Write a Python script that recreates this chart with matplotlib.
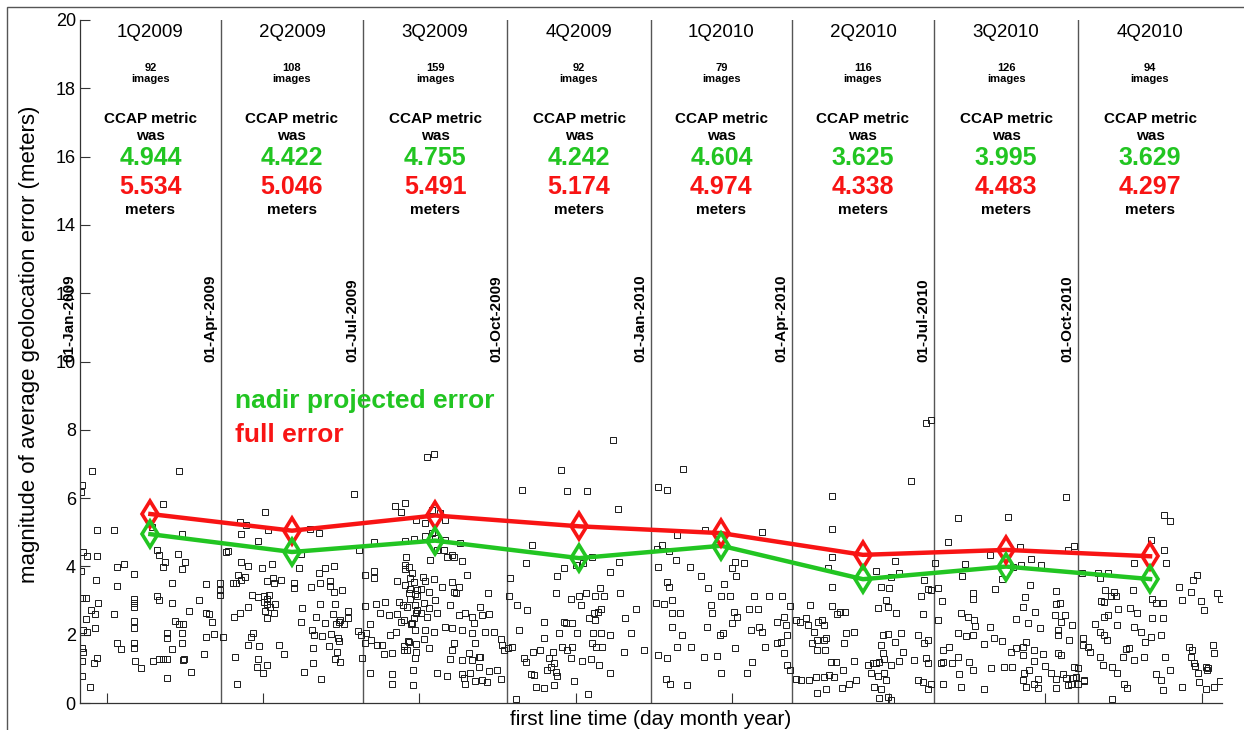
import numpy as np
import matplotlib
matplotlib.use('Agg')
import matplotlib.pyplot as plt
from matplotlib.patches import Rectangle

plt.rcParams['font.family'] = ['Liberation Sans', 'DejaVu Sans']

# quarter boundaries (first line time), days counted from 01-Jan-2009
edge_dates = np.array(['2009-01-01', '2009-04-01', '2009-07-01', '2009-10-01',
                       '2010-01-01', '2010-04-01', '2010-07-01', '2010-10-01',
                       '2011-01-01'], dtype='datetime64[D]')
edge_labels = ['01-Jan-2009', '01-Apr-2009', '01-Jul-2009', '01-Oct-2009',
               '01-Jan-2010', '01-Apr-2010', '01-Jul-2010', '01-Oct-2010']
quarters = ['1Q2009', '2Q2009', '3Q2009', '4Q2009',
            '1Q2010', '2Q2010', '3Q2010', '4Q2010']
n_images = [92, 108, 159, 92, 79, 116, 126, 94]
nadir_err = [4.944, 4.422, 4.755, 4.242, 4.604, 3.625, 3.995, 3.629]
full_err = [5.534, 5.046, 5.491, 5.174, 4.974, 4.338, 4.483, 4.297]

# per-image average geolocation error: (day, meters)
q1_2009 = [(7.5, 6.80), (1.1, 6.38), (0.5, 6.19), (63.4, 6.80), (52.9, 5.83), (10.7, 5.07),
           (21.9, 5.07), (45.9, 5.16), (65.1, 4.94), (1.7, 4.43), (4.7, 4.31), (10.7, 4.31),
           (49.5, 4.48), (50.7, 4.33), (62.5, 4.36), (67.2, 4.12), (54.4, 4.14), (53.3, 3.97),
           (23.5, 3.99), (28.2, 4.07), (0.6, 3.87), (65.1, 3.91), (34.7, 3.77), (10.2, 3.60),
           (23.5, 3.43), (58.7, 3.52), (80.6, 3.48), (89.6, 3.52), (89.6, 3.30), (89.6, 3.15),
           (1.1, 3.07), (3.8, 3.07), (34.7, 3.04), (34.7, 2.93), (34.7, 2.82), (49.1, 3.14),
           (50.7, 3.02), (58.7, 2.94), (76.3, 3.02), (11.7, 2.94), (6.8, 2.72), (9.6, 2.61),
           (21.9, 2.62), (69.9, 2.69), (80.6, 2.65), (82.7, 2.61), (84.5, 2.36), (3.8, 2.46),
           (34.7, 2.41), (60.8, 2.41), (63.5, 2.31), (65.7, 2.31), (9.6, 2.19), (4.7, 2.09),
           (2.1, 2.14), (34.7, 2.20), (55.5, 2.04), (55.5, 1.91), (65.1, 2.06), (85.7, 2.02),
           (80.4, 1.92), (23.5, 1.77), (26.2, 1.57), (34.7, 1.77), (34.7, 1.60), (65.1, 1.75),
           (1.1, 1.60), (1.7, 1.50), (58.7, 1.57), (79.3, 1.43), (10.7, 1.31), (9.2, 1.18),
           (1.1, 1.24), (35.2, 1.23), (38.8, 1.02), (46.5, 1.24), (50.7, 1.28), (53.3, 1.28),
           (55.5, 1.28), (65.7, 1.26), (66.5, 1.30), (70.8, 0.92), (1.1, 0.80), (55.5, 0.72),
           (6.4, 0.46)]
q2_2009 = [(175.3, 6.11), (118.4, 5.60), (102.8, 4.94), (119.9, 5.07), (152.5, 4.97),
           (147.2, 5.10), (102.4, 5.30), (106.2, 5.20), (113.7, 4.74), (93.4, 4.41), (94.9, 4.46),
           (178.1, 4.48), (141.2, 4.35), (102.8, 4.14), (107.7, 4.02), (116.3, 3.94), (122.7, 4.07),
           (139.7, 3.94), (152.5, 3.82), (156.8, 3.94), (162.5, 4.01), (101.3, 3.75), (105.6, 3.70),
           (102.8, 3.60), (98.1, 3.52), (99.8, 3.52), (119.5, 3.57), (123.3, 3.65), (124.1, 3.52),
           (128.6, 3.60), (136.9, 3.52), (136.9, 3.38), (147.6, 3.41), (153.6, 3.52), (160.0, 3.58),
           (160.0, 3.43), (162.5, 3.26), (167.5, 3.31), (109.9, 3.16), (114.1, 3.09), (117.3, 3.13),
           (119.5, 3.06), (121.1, 3.16), (117.3, 2.97), (119.5, 2.90), (121.6, 2.82), (124.8, 2.90),
           (118.4, 2.68), (123.7, 2.63), (119.5, 2.49), (107.7, 2.82), (102.4, 2.63), (98.5, 2.53),
           (153.1, 2.90), (162.7, 2.90), (141.9, 2.78), (161.7, 2.60), (165.3, 2.38), (168.5, 2.31),
           (171.1, 2.48), (171.1, 2.70), (163.8, 2.31), (166.4, 2.43), (156.8, 2.33), (141.2, 2.38),
           (151.0, 2.53), (148.3, 2.15), (149.7, 1.99), (154.7, 1.96), (160.6, 2.02), (164.9, 1.89),
           (165.3, 1.82), (110.9, 2.04), (109.2, 1.92), (107.7, 1.70), (114.7, 1.68), (127.5, 1.70),
           (130.5, 1.43), (148.9, 1.60), (158.9, 1.68), (164.3, 1.50), (163.2, 1.28), (165.9, 1.19),
           (99.2, 1.34), (114.1, 1.28), (113.1, 1.04), (119.5, 1.11), (116.9, 0.87), (148.9, 1.16),
           (142.9, 0.92), (154.2, 0.69), (100.3, 0.55), (180.3, 1.31), (177.9, 2.10), (179.8, 2.00),
           (91.3, 1.92)]
q3_2009 = [(187.7, 4.72), (182.4, 3.75), (187.7, 3.87), (187.7, 3.67), (201.1, 5.78), (207.5, 5.87),
           (205.4, 5.58), (215.0, 5.37), (207.5, 4.74), (213.3, 4.79), (208.6, 4.28), (207.5, 4.04),
           (210.1, 3.97), (212.3, 3.82), (202.7, 3.57), (207.5, 3.46), (211.2, 3.33), (210.1, 3.23),
           (214.4, 3.18), (211.2, 3.05), (215.5, 3.12), (182.4, 2.85), (189.4, 2.90), (195.2, 2.97),
           (203.7, 2.95), (206.5, 2.87), (192.0, 2.63), (197.3, 2.58), (202.7, 2.61), (205.4, 2.38),
           (211.8, 2.31), (215.0, 2.63), (213.3, 2.48), (185.6, 2.31), (183.0, 2.06), (186.0, 1.84),
           (182.4, 1.75), (189.9, 1.70), (193.1, 1.70), (194.1, 1.43), (198.4, 1.99), (199.5, 1.45),
           (202.2, 2.09), (206.9, 1.67), (209.5, 1.82), (209.1, 1.55), (215.0, 1.73), (215.0, 1.50),
           (185.6, 0.89), (199.5, 0.85), (199.5, 0.55), (212.9, 0.53), (212.9, 0.97), (221.9, 7.21),
           (226.1, 7.29), (220.8, 5.28), (225.1, 5.65), (230.4, 5.56), (233.6, 5.36), (220.8, 4.89),
           (225.1, 4.97), (227.2, 4.82), (233.6, 4.77), (243.2, 4.69), (208.0, 3.91), (224.0, 4.20),
           (228.3, 4.48), (232.5, 4.48), (234.7, 4.27), (238.9, 4.27), (237.9, 4.33), (244.3, 4.17),
           (210.7, 3.65), (213.3, 3.55), (219.3, 3.70), (220.8, 3.58), (226.1, 3.62), (237.9, 3.55),
           (247.5, 3.75), (215.5, 3.31), (222.9, 3.26), (218.0, 3.33), (231.5, 3.39), (238.9, 3.26),
           (242.1, 3.41), (240.6, 3.23), (260.6, 3.21), (214.4, 2.87), (209.1, 2.82), (219.7, 2.92),
           (215.5, 2.72), (227.2, 3.02), (236.8, 2.87), (256.0, 2.82), (257.1, 2.58), (261.3, 2.61),
           (222.9, 2.77), (218.0, 2.63), (221.9, 2.53), (228.3, 2.63), (233.6, 2.24), (242.1, 2.58),
           (246.4, 2.63), (250.7, 2.53), (251.7, 2.33), (206.9, 2.43), (212.3, 2.33), (214.4, 2.14),
           (220.8, 2.14), (226.1, 2.09), (237.9, 2.19), (244.3, 2.14), (250.7, 2.04), (259.2, 2.09),
           (264.5, 2.09), (210.1, 1.79), (219.7, 1.86), (238.9, 1.77), (252.8, 1.77), (268.8, 1.86),
           (269.9, 1.70), (206.9, 1.55), (222.9, 1.60), (237.9, 1.55), (248.5, 1.45), (254.9, 1.35),
           (270.9, 1.55), (214.4, 1.31), (236.8, 1.28), (244.3, 1.26), (250.7, 1.26), (256.0, 1.34),
           (228.3, 0.87), (234.7, 0.79), (244.3, 0.85), (245.3, 0.72), (249.6, 0.89), (254.9, 1.04),
           (257.1, 0.67), (261.3, 0.94), (266.7, 0.98), (268.8, 0.69), (246.4, 0.57), (252.8, 0.65),
           (260.3, 0.62)]
q4_2009 = [(307.2, 6.82), (282.7, 6.25), (311.4, 6.21), (324.2, 6.21), (343.8, 5.68), (340.4, 7.70),
           (289.0, 4.63), (284.8, 4.11), (309.3, 3.94), (304.6, 3.72), (316.8, 4.04), (321.7, 4.11),
           (327.4, 4.27), (338.7, 3.84), (344.5, 4.14), (274.7, 3.67), (274.1, 3.12), (279.4, 2.87),
           (285.8, 2.72), (304.0, 3.23), (313.6, 3.04), (318.9, 3.12), (323.2, 3.23), (328.9, 3.12),
           (332.3, 3.36), (334.9, 3.12), (345.1, 3.23), (320.0, 2.87), (328.5, 2.64), (331.1, 2.67),
           (332.8, 2.74), (355.2, 2.74), (296.5, 2.38), (309.3, 2.38), (310.4, 2.33), (314.7, 2.33),
           (325.3, 2.48), (329.0, 2.43), (348.1, 2.48), (280.5, 2.14), (306.1, 2.04), (317.4, 2.04),
           (328.1, 2.06), (332.8, 2.04), (338.7, 1.99), (352.0, 2.06), (273.4, 1.60), (276.3, 1.63),
           (296.5, 1.89), (308.3, 1.65), (314.7, 1.65), (327.4, 1.75), (329.6, 1.65), (333.8, 1.63),
           (347.7, 1.50), (360.5, 1.55), (283.7, 1.31), (285.4, 1.21), (289.7, 1.50), (293.9, 1.55),
           (299.7, 1.31), (302.5, 1.50), (302.9, 1.16), (311.4, 1.55), (321.1, 1.24), (326.4, 1.28),
           (331.7, 1.11), (338.7, 0.89), (313.6, 1.31), (288.0, 0.85), (290.1, 0.82), (298.7, 0.97),
           (300.8, 1.06), (304.0, 0.92), (305.1, 0.79), (291.2, 0.48), (296.5, 0.45), (302.9, 0.53),
           (315.7, 0.65), (324.9, 0.25), (278.4, 0.11)]
q1_2010 = [(385.7, 6.84), (369.4, 6.32), (375.4, 6.25), (436.2, 5.02), (399.3, 5.07), (381.4, 4.92),
           (372.2, 4.63), (368.6, 4.50), (376.7, 4.46), (424.5, 4.11), (418.7, 4.14), (417.0, 3.94),
           (419.1, 3.72), (380.8, 4.19), (389.9, 3.97), (369.4, 3.97), (375.4, 3.55), (376.5, 3.41),
           (396.8, 3.72), (411.7, 3.48), (401.4, 3.38), (409.6, 3.12), (415.5, 3.12), (430.8, 3.12),
           (440.5, 3.12), (449.0, 3.12), (368.0, 2.94), (373.3, 2.90), (378.6, 3.02), (403.2, 2.87),
           (404.2, 2.63), (418.0, 2.67), (420.2, 2.53), (427.7, 2.74), (433.4, 2.74), (453.9, 2.84),
           (378.6, 2.64), (383.5, 2.64), (417.0, 2.33), (434.1, 2.24), (436.2, 2.09), (445.8, 2.38),
           (449.7, 2.53), (451.1, 2.28), (401.0, 2.24), (378.6, 2.24), (445.8, 1.75), (451.8, 1.99),
           (428.7, 2.14), (411.3, 2.04), (385.0, 1.99), (381.8, 1.65), (390.8, 1.65), (409.1, 1.99),
           (418.7, 1.60), (437.9, 1.65), (448.0, 1.79), (369.4, 1.41), (375.0, 1.31), (398.9, 1.36),
           (407.0, 1.38), (429.8, 1.21), (450.1, 1.45), (452.2, 1.11), (409.6, 0.87), (426.6, 0.87),
           (374.4, 0.69), (377.1, 0.55), (387.8, 0.53), (453.9, 0.97)]
q2_2010 = [(457.5, 2.43), (460.3, 2.38), (463.9, 2.48), (466.7, 2.87), (465.4, 2.28), (469.2, 2.09),
           (471.8, 2.38), (468.2, 1.75), (471.0, 1.84), (471.4, 1.55), (460.7, 0.67), (466.1, 0.67),
           (470.3, 0.77), (471.4, 0.28), (457.5, 0.69), (531.1, 6.50), (480.4, 6.06), (481.0, 5.09),
           (481.0, 4.28), (478.2, 3.94), (520.9, 4.16), (523.6, 3.80), (508.7, 3.87), (518.3, 3.70),
           (480.4, 3.41), (511.9, 3.41), (517.2, 3.36), (539.3, 3.60), (537.5, 3.13), (541.8, 3.33),
           (544.0, 3.31), (480.4, 2.85), (485.9, 2.67), (488.9, 2.67), (484.2, 2.61), (509.8, 2.77),
           (515.1, 3.02), (516.2, 2.80), (521.5, 2.64), (538.6, 2.60), (474.6, 2.43), (475.3, 2.28),
           (489.5, 2.04), (494.8, 2.09), (513.0, 1.99), (516.2, 2.02), (524.7, 2.06), (535.4, 1.99),
           (541.8, 1.84), (539.6, 1.77), (475.6, 1.84), (476.7, 1.89), (488.4, 1.75), (511.9, 1.70),
           (520.9, 1.79), (525.8, 1.50), (513.0, 1.45), (476.0, 1.55), (479.9, 1.21), (483.1, 1.21),
           (494.8, 1.24), (503.4, 1.11), (506.6, 1.18), (508.7, 1.16), (510.8, 1.21), (514.0, 1.28),
           (518.3, 1.11), (523.6, 1.24), (533.2, 1.26), (540.7, 1.31), (541.8, 1.16), (475.6, 0.77),
           (478.8, 0.82), (482.0, 0.77), (488.0, 0.97), (495.9, 0.67), (505.5, 0.87), (509.8, 0.79),
           (514.0, 0.89), (515.1, 0.67), (535.4, 0.67), (538.6, 0.62), (544.0, 0.57), (541.8, 0.40),
           (476.7, 0.40), (487.4, 0.43), (491.7, 0.57), (507.6, 0.48), (510.8, 0.16), (516.2, 0.18),
           (518.3, 0.09), (512.0, 0.40), (540.7, 8.20), (544.0, 8.28)]
q3_2010 = [(546.5, 4.09), (630.3, 6.04), (561.0, 5.43), (593.4, 5.46), (554.6, 4.70), (581.9, 4.33),
           (601.1, 4.58), (607.9, 4.23), (614.3, 4.04), (631.4, 4.48), (635.2, 4.60), (565.7, 4.07),
           (563.6, 3.72), (570.6, 3.21), (570.6, 3.06), (548.2, 3.38), (550.8, 2.99), (584.9, 3.33),
           (589.2, 3.62), (607.5, 3.46), (604.1, 3.09), (623.9, 3.28), (623.9, 2.90), (626.7, 2.92),
           (548.2, 2.43), (563.3, 2.63), (567.6, 2.53), (571.4, 2.43), (571.8, 2.25), (581.4, 2.23),
           (598.5, 2.45), (602.8, 2.82), (606.0, 2.35), (610.3, 2.67), (613.4, 2.21), (623.0, 2.58),
           (626.9, 2.38), (629.4, 2.58), (634.2, 2.28), (551.4, 1.55), (555.6, 1.65), (561.0, 2.04),
           (566.3, 1.95), (570.6, 1.99), (578.0, 1.72), (584.4, 1.89), (589.2, 1.82), (595.1, 1.50),
           (598.3, 1.60), (602.6, 1.65), (604.7, 1.79), (610.0, 1.55), (615.4, 1.43), (625.0, 2.14),
           (625.4, 1.99), (627.1, 1.40), (632.4, 1.84), (551.4, 1.21), (550.2, 1.16), (557.7, 1.16),
           (561.0, 1.36), (562.0, 0.85), (568.4, 1.21), (570.6, 0.97), (582.3, 1.02), (590.4, 1.06),
           (595.6, 1.06), (602.6, 1.41), (603.3, 0.89), (606.9, 0.97), (610.1, 1.24), (612.2, 0.69),
           (616.9, 1.08), (620.7, 0.89), (623.9, 0.69), (625.0, 1.45), (628.2, 0.85), (630.3, 0.72),
           (634.6, 0.72), (635.6, 1.06), (636.7, 0.77), (637.8, 1.02), (551.4, 0.57), (563.3, 0.46),
           (578.0, 0.40), (602.6, 0.67), (604.7, 0.46), (610.1, 0.57), (612.2, 0.43), (623.9, 0.43),
           (631.4, 0.53), (633.5, 0.57), (637.8, 0.57), (596.1, 3.99), (601.4, 4.04)]
q4_2010 = [(642.1, 0.65), (693.2, 5.51), (697.0, 5.34), (684.7, 4.77), (692.9, 4.48), (694.4, 4.09),
           (673.6, 4.09), (657.0, 3.80), (650.6, 3.80), (640.5, 3.80), (702.8, 3.41), (704.3, 3.02),
           (710.3, 3.26), (711.4, 3.60), (714.1, 3.75), (716.7, 2.99), (718.8, 2.72), (727.0, 3.23),
           (729.5, 3.06), (652.3, 3.65), (655.3, 3.31), (660.8, 3.26), (662.3, 3.12), (654.8, 2.97),
           (652.7, 2.99), (659.1, 3.12), (673.0, 3.31), (685.2, 3.06), (688.0, 2.93), (692.3, 2.92),
           (671.5, 2.77), (663.4, 2.74), (648.5, 2.31), (651.7, 2.09), (654.8, 1.99), (656.6, 1.84),
           (654.4, 2.53), (657.4, 2.58), (662.9, 2.28), (674.0, 2.24), (678.3, 2.09), (680.9, 1.79),
           (685.2, 2.48), (684.7, 1.94), (692.3, 2.48), (691.1, 1.99), (675.5, 2.63), (640.9, 1.89),
           (640.9, 1.70), (644.2, 1.65), (645.8, 1.50), (652.3, 1.36), (653.8, 1.11), (659.6, 1.04),
           (666.6, 1.36), (668.7, 1.57), (670.8, 1.60), (674.0, 1.26), (680.1, 1.36), (693.8, 1.36),
           (696.5, 0.97), (642.1, 0.67), (662.9, 0.89), (667.2, 0.57), (669.3, 0.43), (688.0, 0.85),
           (690.8, 0.67), (692.3, 0.38), (704.5, 0.46), (659.6, 0.11), (709.2, 1.65), (710.7, 1.55),
           (709.9, 1.36), (724.2, 1.70), (724.8, 1.45), (712.1, 1.16), (712.5, 1.08), (720.9, 1.02),
           (720.5, 0.97), (715.6, 0.62), (719.9, 0.40), (724.8, 0.46), (729.0, 0.65), (714.4, 0.87),
           (719.9, 1.06)]

GREEN = '#22c522'
RED = '#f81414'

edges = (edge_dates - edge_dates[0]).astype(float)
mids = (edges[:-1] + edges[1:]) / 2

pts = np.array(q1_2009 + q2_2009 + q3_2009 + q4_2009 + q1_2010 + q2_2010 + q3_2010 + q4_2010)

fig = plt.figure(figsize=(12.44, 7.30), dpi=100)
ax = fig.add_axes([80 / 1244, 27 / 730, 1142 / 1244, 683 / 730])

# quarter separators
for d in edges[1:-1]:
    ax.plot([d, d], [0, 20], color='#555555', lw=1.0, zorder=1)

ax.plot(pts[:, 0], pts[:, 1], 's', ms=4.6, mfc='none', mec='#1a1a1a', mew=0.7, zorder=2)

ax.plot(mids, full_err, '-', color=RED, lw=3.2, zorder=3)
ax.plot(mids, full_err, 'd', ms=13, mfc='none', mec=RED, mew=2.6, zorder=4)
ax.plot(mids, nadir_err, '-', color=GREEN, lw=3.2, zorder=3)
ax.plot(mids, nadir_err, 'd', ms=13, mfc='none', mec=GREEN, mew=2.6, zorder=4)

for i, m in enumerate(mids):
    ax.text(m, 19.51, quarters[i], ha='center', va='baseline', fontsize=13.5)
    ax.text(m, 18.51, str(n_images[i]), ha='center', va='baseline', fontsize=8, fontweight='bold')
    ax.text(m, 18.17, 'images', ha='center', va='baseline', fontsize=8, fontweight='bold')
    ax.text(m, 16.97, 'CCAP metric', ha='center', va='baseline', fontsize=11, fontweight='bold')
    ax.text(m, 16.50, 'was', ha='center', va='baseline', fontsize=11, fontweight='bold')
    ax.text(m, 15.75, '%.3f' % nadir_err[i], ha='center', va='baseline', fontsize=18,
            fontweight='bold', color=GREEN)
    ax.text(m, 14.90, '%.3f' % full_err[i], ha='center', va='baseline', fontsize=18,
            fontweight='bold', color=RED)
    ax.text(m, 14.32, 'meters', ha='center', va='baseline', fontsize=11, fontweight='bold')

for d, lab in zip(edges[:-1], edge_labels):
    ax.text(d - 2.5, 10, lab, rotation=90, ha='right', va='bottom', fontsize=11,
            fontweight='bold', zorder=5)

ax.text(99, 8.63, 'nadir projected error', color=GREEN, fontsize=19, fontweight='bold',
        ha='left', va='baseline')
ax.text(99, 7.65, 'full error', color=RED, fontsize=19, fontweight='bold',
        ha='left', va='baseline')

ax.set_xlim(edges[0], edges[-1])
ax.set_ylim(0, 20)
ax.set_yticks(np.arange(0, 21, 2))
ax.set_xticks(np.arange(17, 730, 100))
ax.set_xticklabels([])
ax.tick_params(direction='in', length=7, width=0.8, color='#333333', labelsize=13, pad=3)
for s in ['top', 'right']:
    ax.spines[s].set_visible(False)
for s in ['left', 'bottom']:
    ax.spines[s].set_color('#333333')
    ax.spines[s].set_linewidth(0.9)

ax.set_xlabel('first line time (day month year)', fontsize=15, labelpad=2)
ax.set_ylabel('magnitude of average geolocation error (meters)', fontsize=16, labelpad=8)
ax.yaxis.set_label_coords(-0.035, 0.525)

# frame round the figure (open at the bottom and right edges)
fig.patches.append(Rectangle((7 / 1244, -0.05), 1.1, 0.05 + 723 / 730, transform=fig.transFigure,
                             fill=False, edgecolor='#555555', lw=1.0))

fig.savefig('out.png', dpi=100)
